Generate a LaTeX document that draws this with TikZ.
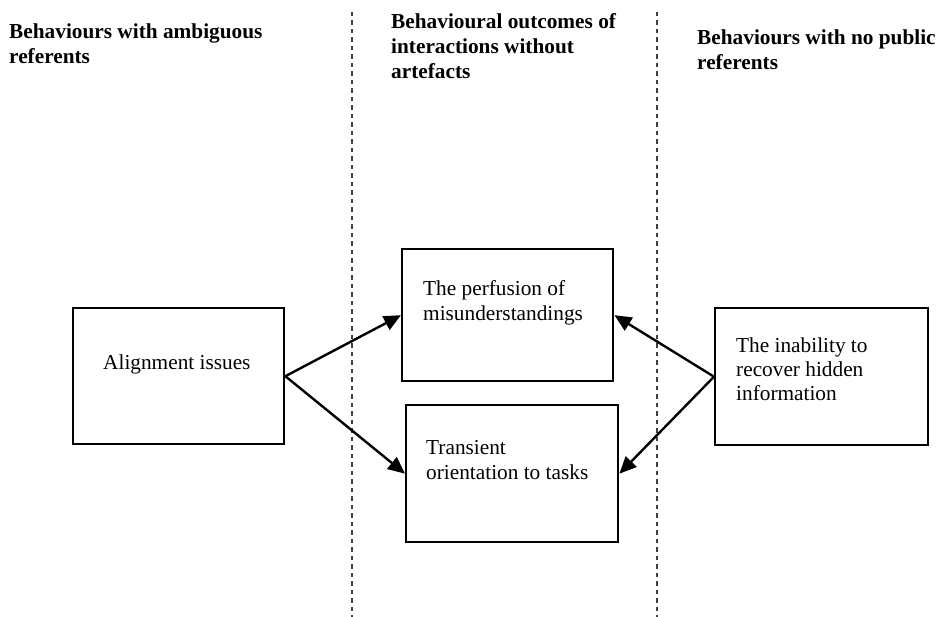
\documentclass[tikz,border=0pt]{standalone}
\usepackage{fontspec}
\setmainfont{Liberation Serif}
\usetikzlibrary{arrows.meta}
\newcommand\txtblock[1]{\parbox[t]{260pt}{\raggedright #1}}
\begin{document}
\begin{tikzpicture}[x=1pt,y=-1pt,
  box/.style={draw, line width=2.4pt, inner sep=0pt, anchor=north west},
  txt/.style={anchor=base west, inner sep=0pt, font=\fontsize{21.3}{25}\selectfont},
  head/.style={anchor=base west, inner sep=0pt, font=\fontsize{21.3}{25}\selectfont\bfseries},
  divider/.style={draw=black!75, line width=1.1pt, dash pattern=on 4.5pt off 4pt},
  arr/.style={line width=2.4pt, -{Triangle[length=17pt,width=15pt]}}]
\useasboundingbox (0,0) rectangle (938,617);

% column dividers
\coordinate (d1t) at (352,12);
\coordinate (d1b) at (352,617);
\coordinate (d2t) at (657,12);
\coordinate (d2b) at (657,617);
\draw[divider] (d1t) -- (d1b);
\draw[divider] (d2t) -- (d2b);

% column headings
\node[head] (h1) at (9,39) {\txtblock{Behaviours with ambiguous\\referents}};
\node[head] (h2) at (391,29) {\txtblock{Behavioural outcomes of\\interactions without\\artefacts}};
\node[head] (h3) at (697,45) {\txtblock{Behaviours with no public\\referents}};

% boxes
\node[box, minimum width=211pt, minimum height=136pt] (align) at (72,307) {};
\node[box, minimum width=211pt, minimum height=132pt] (perf) at (401,248) {};
\node[box, minimum width=212pt, minimum height=137pt] (trans) at (405,404) {};
\node[box, minimum width=213pt, minimum height=137pt] (hidden) at (714,307) {};

% box texts
\node[txt] (talign) at (103,370) {Alignment issues};
\node[txt] (tperf) at (423,296) {\txtblock{The perfusion of\\misunderstandings}};
\node[txt] (ttrans) at (426,455) {\txtblock{Transient\\orientation to tasks}};
\node[txt, font=\fontsize{21.3}{24}\selectfont] (thidden) at (736,353) {\txtblock{The inability to\\recover hidden\\information}};

% connectors
\draw[arr] (align.east) -- (perf.west);
\draw[arr] (align.east) -- (trans.west);
\draw[arr] (hidden.west) -- (perf.east);
\draw[arr] (hidden.west) -- (trans.east);
\end{tikzpicture}
\end{document}
